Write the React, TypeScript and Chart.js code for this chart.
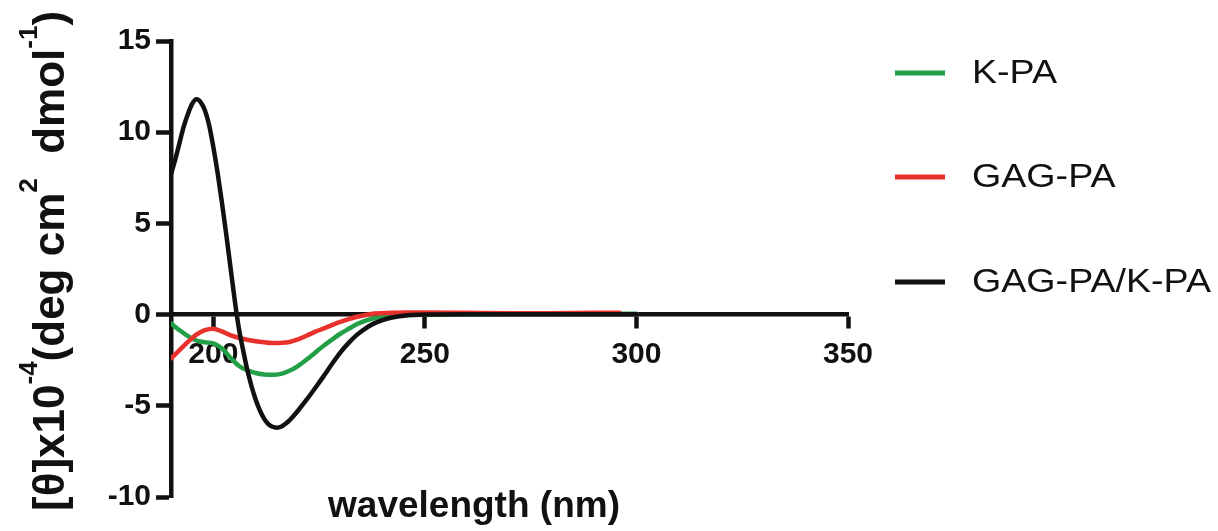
import React, { useEffect, useRef } from "react";
import { Chart, registerables } from "chart.js";

Chart.register(...registerables);

// ---- data ----
const seriesNames = ["K-PA", "GAG-PA", "GAG-PA/K-PA"];
const seriesColors = ["#22a048", "#e8302c", "#111111"];

const kpaWavelength = [190, 192, 194, 196, 198, 200, 202, 204, 206, 208, 210, 212, 214, 216, 218, 220, 222, 224, 226, 228, 230, 232, 234, 236, 238, 240, 244, 250, 260, 270, 280, 290, 300];
const kpaValues = [-0.48, -0.85, -1.18, -1.42, -1.52, -1.58, -1.85, -2.35, -2.8, -3.05, -3.2, -3.28, -3.3, -3.25, -3.08, -2.82, -2.48, -2.1, -1.72, -1.38, -1.05, -0.78, -0.52, -0.33, -0.19, -0.1, -0.03, 0, 0.02, 0.03, 0.03, 0.04, 0.04];

const gagWavelength = [190, 192, 194, 196, 198, 200, 202, 204, 206, 208, 210, 212, 214, 216, 218, 220, 222, 224, 226, 228, 230, 232, 234, 236, 238, 242, 246, 250, 260, 270, 280, 290, 296];
const gagValues = [-2.4, -1.95, -1.5, -1.1, -0.85, -0.77, -0.92, -1.12, -1.27, -1.38, -1.46, -1.52, -1.56, -1.55, -1.5, -1.36, -1.16, -0.95, -0.77, -0.58, -0.4, -0.25, -0.12, -0.02, 0.06, 0.1, 0.12, 0.12, 0.1, 0.08, 0.08, 0.1, 0.1];

const mixWavelength = [190, 191, 192, 193, 194, 195, 196, 197, 198, 199, 200, 201, 202, 203, 204, 205, 206, 207, 208, 209, 210, 211, 212, 213, 214, 215, 216, 217, 218, 219, 220, 222, 224, 226, 228, 230, 232, 234, 236, 238, 240, 242, 244, 246, 250, 260, 270, 280, 290, 300];
const mixValues = [7.7, 8.5, 9.4, 10.3, 11.0, 11.55, 11.8, 11.65, 11.2, 10.4, 9.2, 7.8, 6.2, 4.5, 2.7, 0.9, -0.7, -1.9, -3.0, -3.9, -4.65, -5.25, -5.7, -6.0, -6.15, -6.2, -6.15, -6.0, -5.8, -5.55, -5.27, -4.68, -4.05, -3.4, -2.72, -2.08, -1.55, -1.1, -0.75, -0.48, -0.3, -0.17, -0.09, -0.04, 0, 0.02, 0.02, 0.02, 0.02, 0.02];

const xTickValues = [200, 250, 300, 350];
const xMin = 190;
const xMax = 350;
const yMin = -10;
const yMax = 15;
const yStep = 5;

const xTitle = "wavelength (nm)";
// y title pieces: [text, isSuperscript]
const yTitleParts: [string, boolean][] = [
  ["[θ]x10", false],
  ["-4", true],
  ["(deg cm", false],
  ["2", true],
  ["  dmol", false],
  ["-1", true],
  [")", false],
];

const FONT = "'Liberation Sans', Arial, Helvetica, sans-serif";

export default function App() {
  const ref = useRef<HTMLCanvasElement | null>(null);

  useEffect(() => {
    document.body.style.margin = "0";
    const canvas = ref.current;
    if (!canvas) return;

    const pts = (xs: number[], ys: number[]) => xs.map((x, i) => ({ x, y: ys[i] }));

    const extras = {
      id: "extras",
      afterDraw(chart: any) {
        const ctx = chart.ctx as CanvasRenderingContext2D;
        ctx.save();
        ctx.fillStyle = "#111";
        // x title
        ctx.font = `bold 37px ${FONT}`;
        ctx.textAlign = "center";
        ctx.textBaseline = "alphabetic";
        ctx.fillText(xTitle, 474, 517);

        // y title (rotated, with superscripts)
        ctx.save();
        ctx.translate(64, 511);
        ctx.rotate(-Math.PI / 2);
        ctx.textAlign = "left";
        let pos = 0;
        for (const [txt, sup] of yTitleParts) {
          ctx.font = sup ? `bold 26px ${FONT}` : `bold 44px ${FONT}`;
          ctx.fillText(txt, pos, sup ? -27 : 0);
          pos += ctx.measureText(txt).width;
        }
        ctx.restore();

        // legend
        const rowY = [73, 177, 282];
        chart.data.datasets.forEach((ds: any, i: number) => {
          const y = rowY[i];
          ctx.strokeStyle = ds.borderColor;
          ctx.lineWidth = 5;
          ctx.beginPath();
          ctx.moveTo(895, y);
          ctx.lineTo(945, y);
          ctx.stroke();
          ctx.save();
          ctx.translate(972, y + 1);
          ctx.scale(1.14, 1);
          ctx.textAlign = "left";
          ctx.textBaseline = "middle";
          ctx.font = `33px ${FONT}`;
          ctx.fillStyle = "#111";
          ctx.fillText(ds.label, 0, 0);
          ctx.restore();
        });
        ctx.restore();
      },
    };

    const chart = new Chart(canvas, {
      type: "line",
      data: {
        datasets: [
          {
            label: seriesNames[0],
            data: pts(kpaWavelength, kpaValues),
            borderColor: seriesColors[0],
            order: 2,
          },
          {
            label: seriesNames[1],
            data: pts(gagWavelength, gagValues),
            borderColor: seriesColors[1],
            order: 1,
          },
          {
            label: seriesNames[2],
            data: pts(mixWavelength, mixValues),
            borderColor: seriesColors[2],
            order: 0,
          },
        ].map((d) => ({
          ...d,
          borderWidth: 4.5,
          pointRadius: 0,
          fill: false,
          cubicInterpolationMode: "monotone" as const,
          borderCapStyle: "round" as const,
          borderJoinStyle: "round" as const,
        })),
      },
      options: {
        animation: false,
        responsive: true,
        maintainAspectRatio: false,
        devicePixelRatio: 1,
        layout: { padding: { top: 41, bottom: 34, right: 370, left: 0 } },
        plugins: {
          legend: { display: false },
          tooltip: { enabled: false },
          title: { display: false },
        },
        scales: {
          x: {
            type: "linear",
            min: xMin,
            max: xMax,
            position: { y: 0 } as any,
            afterBuildTicks: (scale: any) => {
              scale.ticks = xTickValues.map((v) => ({ value: v }));
            },
            grid: {
              drawOnChartArea: false,
              drawTicks: true,
              tickLength: 12,
              tickWidth: 4.5,
              tickColor: "#111",
            },
            border: { display: true, width: 4.5, color: "#111" },
            ticks: {
              color: "#111",
              font: { family: FONT, size: 30, weight: "bold" },
              padding: 10,
              maxRotation: 0,
              autoSkip: false,
            },
          },
          y: {
            type: "linear",
            min: yMin,
            max: yMax,
            position: "left",
            afterFit: (scale: any) => {
              scale.width = 171;
            },
            grid: {
              drawOnChartArea: false,
              drawTicks: true,
              tickLength: 15,
              tickWidth: 4.5,
              tickColor: "#111",
            },
            border: { display: true, width: 4.5, color: "#111" },
            ticks: {
              stepSize: yStep,
              color: "#111",
              font: { family: FONT, size: 30, weight: "bold" },
              padding: 5,
            },
          },
        },
      },
      plugins: [extras],
    });

    return () => chart.destroy();
  }, []);

  return (
    <div style={{ width: 1218, height: 531, position: "relative" }}>
      <canvas ref={ref} />
    </div>
  );
}
